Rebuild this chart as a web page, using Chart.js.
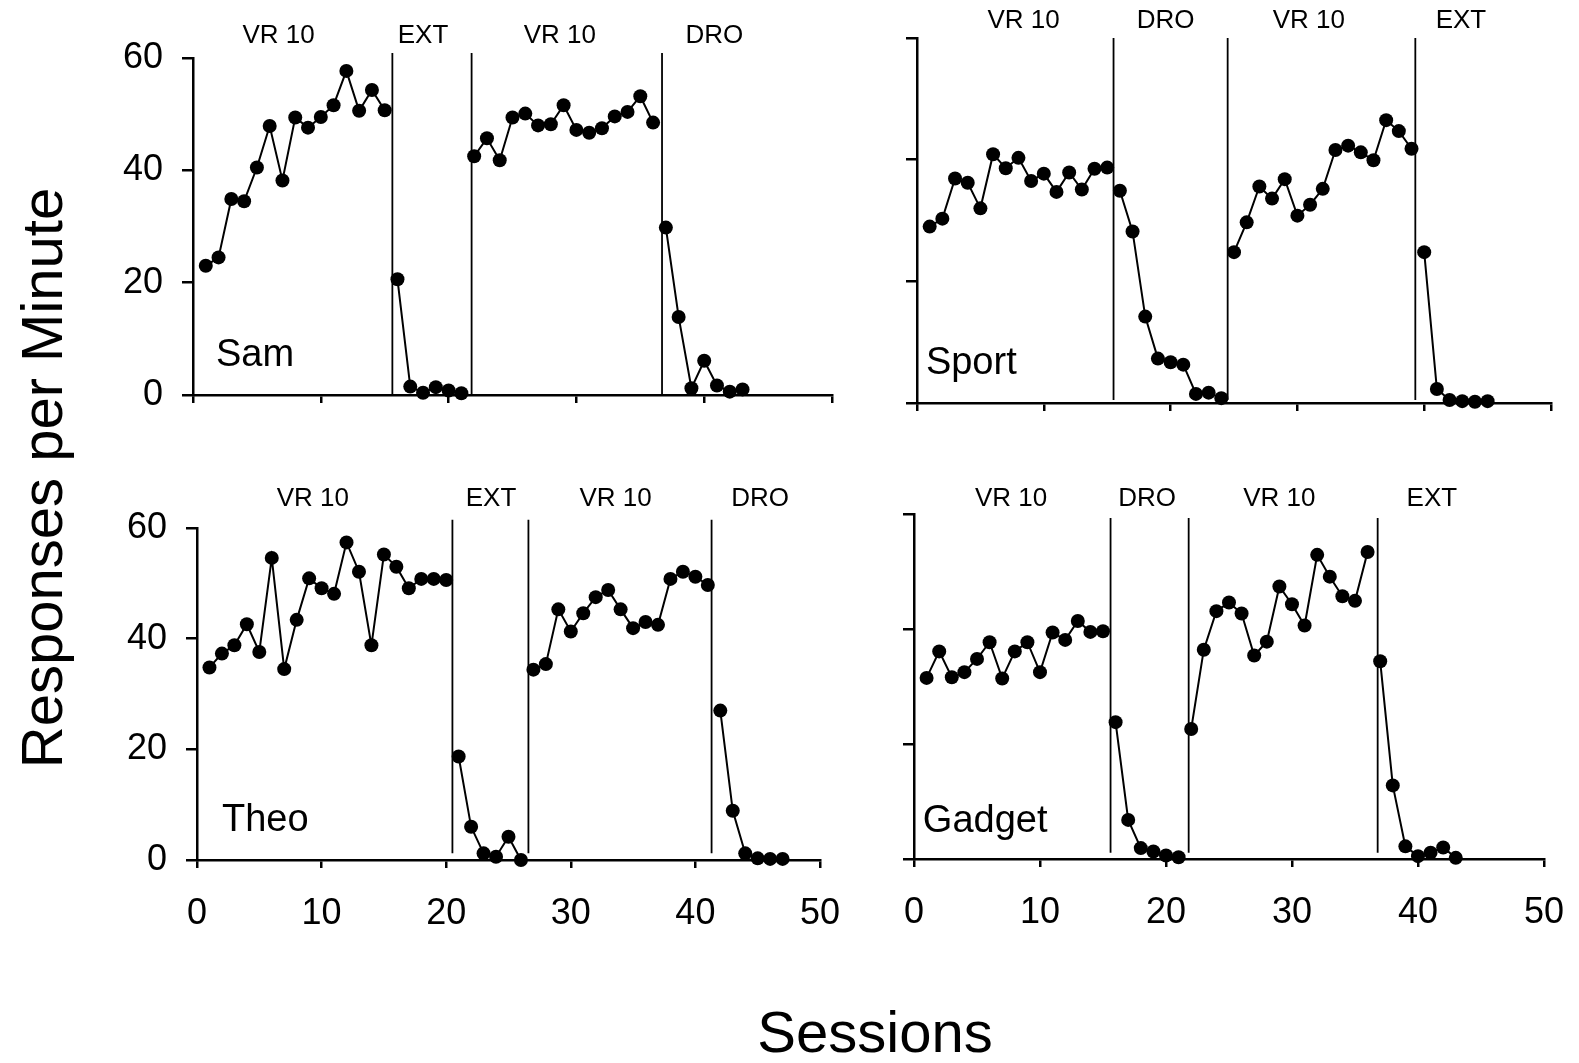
<!DOCTYPE html>
<html>
<head>
<meta charset="utf-8">
<script src="https://cdn.jsdelivr.net/npm/chart.js@4.4.1/dist/chart.umd.min.js"></script>
<style>
  html, body { margin: 0; padding: 0; background: #fff; }
  #page { position: relative; width: 1579px; height: 1063px; overflow: hidden;
          font-family: "Liberation Sans", Arial, sans-serif; color: #000; }
  #page canvas { position: absolute; }
  .titulo { position: absolute; font-size: 58px; line-height: 1; white-space: nowrap; }
  #tituloX { left: 875px; top: 1032px; transform: translate(-50%, -50%); }
  #tituloY { left: 42px; top: 478px; transform: translate(-50%, -50%) rotate(-90deg); }
</style>
</head>
<body>
<div id="page">
  <canvas id="gSam"></canvas>
  <canvas id="gSport"></canvas>
  <canvas id="gTheo"></canvas>
  <canvas id="gGadget"></canvas>
  <div class="titulo" id="tituloY">Responses per Minute</div>
  <div class="titulo" id="tituloX">Sessions</div>
</div>
<script>
/* Dados (respostas por minuto, sessao = indice + 1) */
const sessoesTicks = [0, 10, 20, 30, 40, 50];
const respostasTicks = [0, 20, 40, 60];

const samResp = [23.0, 24.5, 34.9, 34.5, 40.5, 47.9, 38.2, 49.4, 47.6, 49.5, 51.6, 57.7, 50.6, 54.3, 50.7,
  20.6, 1.5, 0.4, 1.4, 0.8, 0.3,
  42.5, 45.7, 41.8, 49.4, 50.1, 48.0, 48.2, 51.6, 47.2, 46.7, 47.5, 49.6, 50.4, 53.2, 48.5,
  29.8, 13.9, 1.2, 6.1, 1.7, 0.6, 1.0];
const samFases = [15.6, 21.8, 36.7];
const samRotulos = ['VR 10', 'EXT', 'VR 10', 'DRO'];

const sportResp = [29.0, 30.3, 36.9, 36.2, 32.0, 40.9, 38.6, 40.3, 36.5, 37.7, 34.7, 37.9, 35.1, 38.5, 38.7,
  34.9, 28.2, 14.2, 7.3, 6.7, 6.3, 1.5, 1.7, 0.8,
  24.8, 29.7, 35.6, 33.6, 36.8, 30.8, 32.6, 35.2, 41.6, 42.3, 41.2, 39.9, 46.5, 44.7, 41.8,
  24.8, 2.3, 0.5, 0.3, 0.2, 0.3];
const sportFases = [15.5, 24.5, 39.3];
const sportRotulos = ['VR 10', 'DRO', 'VR 10', 'EXT'];

const theoResp = [34.8, 37.3, 38.8, 42.6, 37.6, 54.6, 34.5, 43.4, 50.9, 49.1, 48.1, 57.4, 52.1, 38.8, 55.2,
  53.0, 49.1, 50.8, 50.8, 50.6,
  18.7, 6.0, 1.2, 0.6, 4.2, 0.0,
  34.4, 35.4, 45.3, 41.3, 44.6, 47.5, 48.8, 45.3, 41.9, 43.0, 42.5, 50.8, 52.1, 51.2, 49.7,
  27.0, 8.9, 1.2, 0.3, 0.2, 0.2];
const theoFases = [20.5, 26.6, 41.3];
const theoRotulos = ['VR 10', 'EXT', 'VR 10', 'DRO'];

const gadgetResp = [31.5, 36.1, 31.6, 32.5, 34.8, 37.7, 31.4, 36.1, 37.7, 32.5, 39.4, 38.1, 41.4, 39.5, 39.6,
  23.8, 6.8, 1.9, 1.3, 0.6, 0.3,
  22.6, 36.4, 43.1, 44.6, 42.7, 35.4, 37.8, 47.4, 44.3, 40.6, 52.9, 49.1, 45.7, 44.9, 53.4,
  34.4, 12.8, 2.2, 0.5, 1.1, 2.0, 0.2];
const gadgetFases = [15.6, 21.8, 36.8];
const gadgetRotulos = ['VR 10', 'DRO', 'VR 10', 'EXT'];

/* Layout de cada painel (pixels da pagina e posicoes dos textos) */
const fonte = '"Liberation Sans", Arial, sans-serif';
const paineis = [
  { id: 'gSam', nome: 'Sam', dados: samResp, fases: samFases, rotulos: samRotulos,
    rotuloX: [6.7, 18.0, 28.7, 40.8], rotuloDy: 22, nomeX: 1.8, nomeY: 7.1,
    topoLinha: 60.9, baseLinha: 0, area: { l: 193, t: 58, r: 832, b: 395 }, yLabels: true, xLabels: false },
  { id: 'gSport', nome: 'Sport', dados: sportResp, fases: sportFases, rotulos: sportRotulos,
    rotuloX: [8.4, 19.6, 30.9, 42.9], rotuloDy: 17, nomeX: 0.7, nomeY: 6.5,
    topoLinha: 60, baseLinha: 0.5, area: { l: 917, t: 38, r: 1551, b: 403 }, yLabels: false, xLabels: false },
  { id: 'gTheo', nome: 'Theo', dados: theoResp, fases: theoFases, rotulos: theoRotulos,
    rotuloX: [9.3, 23.6, 33.6, 45.2], rotuloDy: 29, nomeX: 2.0, nomeY: 7.1,
    topoLinha: 61.5, baseLinha: 1.2, area: { l: 197, t: 528, r: 824, b: 860 }, yLabels: true, xLabels: true },
  { id: 'gGadget', nome: 'Gadget', dados: gadgetResp, fases: gadgetFases, rotulos: gadgetRotulos,
    rotuloX: [7.7, 18.5, 29.0, 41.1], rotuloDy: 15, nomeX: 0.7, nomeY: 6.5,
    topoLinha: 59.3, baseLinha: 1.1, area: { l: 914, t: 514, r: 1548, b: 859 }, yLabels: false, xLabels: true }
];

Chart.defaults.font.family = fonte;
Chart.defaults.color = '#000';

function criarPainel(p) {
  const padL = 100, padT = 60, padR = 40, padB = 80;
  const cv = document.getElementById(p.id);
  cv.width = p.area.r - p.area.l + padL + padR;
  cv.height = p.area.b - p.area.t + padT + padB;
  cv.style.left = (p.area.l - padL) + 'px';
  cv.style.top = (p.area.t - padT) + 'px';

  // quebra a serie em fases (sem ligar pontos entre fases)
  const cortes = p.fases.concat([Infinity]);
  const grupos = [[]];
  let k = 0;
  p.dados.forEach((v, i) => {
    const s = i + 1;
    while (s > cortes[k]) { grupos.push([]); k++; }
    grupos[grupos.length - 1].push({ x: s, y: v });
  });

  const datasets = grupos.map(g => ({
    data: g,
    borderColor: '#000',
    borderWidth: 2,
    backgroundColor: '#000',
    pointRadius: 7,
    pointBorderWidth: 0,
    pointBackgroundColor: '#000',
    tension: 0,
    clip: false
  }));

  const fasesPlugin = {
    id: 'fases',
    beforeDatasetsDraw(chart) {
      const { ctx, scales: { x, y } } = chart;
      ctx.save();
      ctx.strokeStyle = '#000';
      ctx.lineWidth = 1.8;
      p.fases.forEach(v => {
        const px = x.getPixelForValue(v);
        ctx.beginPath();
        ctx.moveTo(px, y.getPixelForValue(p.topoLinha));
        ctx.lineTo(px, y.getPixelForValue(p.baseLinha));
        ctx.stroke();
      });
      ctx.fillStyle = '#000';
      ctx.font = '26px ' + fonte;
      ctx.textAlign = 'center';
      ctx.textBaseline = 'middle';
      p.rotulos.forEach((t, i) => {
        ctx.fillText(t, x.getPixelForValue(p.rotuloX[i]), chart.chartArea.top - p.rotuloDy);
      });
      ctx.font = '38px ' + fonte;
      ctx.textAlign = 'left';
      ctx.fillText(p.nome, x.getPixelForValue(p.nomeX), y.getPixelForValue(p.nomeY));
      ctx.restore();
    }
  };

  new Chart(cv, {
    type: 'line',
    data: { datasets },
    options: {
      responsive: false,
      animation: false,
      events: [],
      layout: { padding: { left: 0, top: padT, right: padR, bottom: 0 } },
      plugins: { legend: { display: false }, tooltip: { enabled: false } },
      scales: {
        x: {
          type: 'linear', min: 0, max: 50,
          afterBuildTicks: s => { s.ticks = sessoesTicks.map(v => ({ value: v })); },
          afterFit: s => { s.height = padB; },
          border: { display: true, color: '#000', width: 2.5 },
          grid: { display: true, drawOnChartArea: false, drawTicks: true, tickLength: 8, color: '#000', lineWidth: 2.5 },
          ticks: { display: p.xLabels, color: '#000', font: { size: 36 }, padding: 24, maxRotation: 0 }
        },
        y: {
          type: 'linear', min: 0, max: 60,
          afterBuildTicks: s => { s.ticks = respostasTicks.map(v => ({ value: v })); },
          afterFit: s => { s.width = padL; },
          border: { display: true, color: '#000', width: 2.5 },
          grid: { display: true, drawOnChartArea: false, drawTicks: true, tickLength: 11, color: '#000', lineWidth: 2.5 },
          ticks: { display: p.yLabels, color: '#000', font: { size: 36 }, padding: 19 }
        }
      }
    },
    plugins: [fasesPlugin]
  });
}

paineis.forEach(criarPainel);
</script>
</body>
</html>
